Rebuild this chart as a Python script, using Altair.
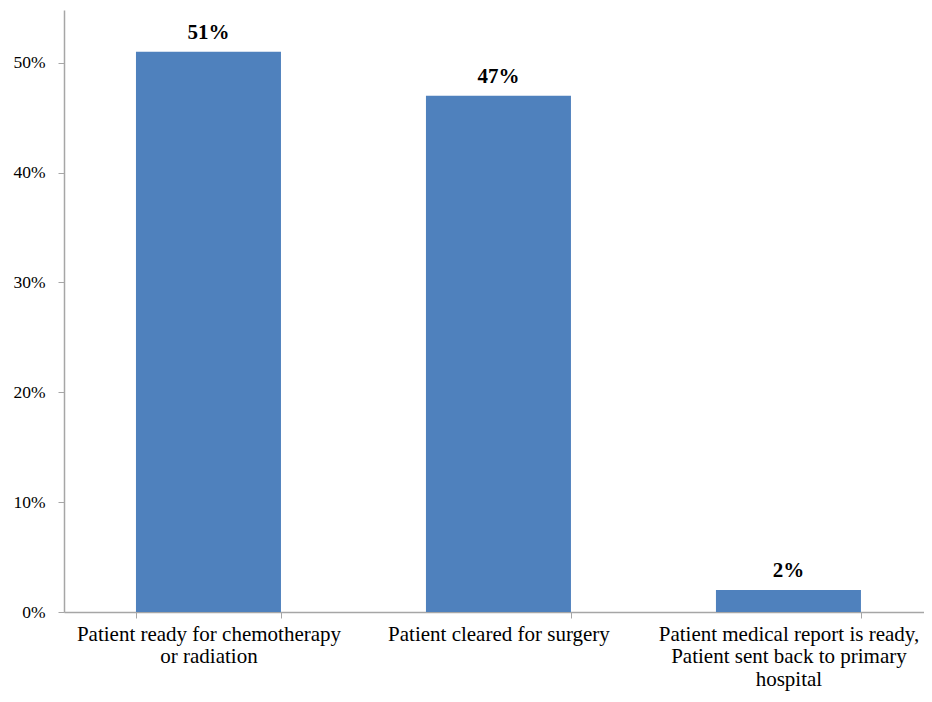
import altair as alt
import pandas as pd

keys = ["A", "B", "C"]
category_lines = [
    ["Patient ready for chemotherapy", "or radiation"],
    ["Patient cleared for surgery"],
    ["Patient medical report is ready,", "Patient sent back to primary", "hospital"],
]
values = [0.51, 0.47, 0.02]
labels = ["51%", "47%", "2%"]
y_ticks = [0, 0.1, 0.2, 0.3, 0.4, 0.5]

df = pd.DataFrame({"key": keys, "value": values, "label": labels})

def js_list(lines):
    return "[" + ", ".join("'" + s.replace("'", "\\'") + "'" for s in lines) + "]"

label_expr = (
    f"datum.value === '{keys[0]}' ? {js_list(category_lines[0])} : "
    f"datum.value === '{keys[1]}' ? {js_list(category_lines[1])} : "
    f"datum.value === '{keys[2]}' ? {js_list(category_lines[2])} : ''"
)

axis_color = "#A6A6A6"
font = "Liberation Serif"

x = alt.X(
    "key:N",
    sort=keys,
    title=None,
    scale=alt.Scale(paddingInner=0.5, paddingOuter=0.2328, align=0.533),
    axis=alt.Axis(
        labelExpr=label_expr,
        labelAngle=0,
        labelFont=font,
        labelFontSize=21,
        labelColor="#000000",
        labelLineHeight=22.5,
        labelPadding=5,
        labelBaseline="top",
        labelLimit=600,
        tickBand="extent",
        tickSize=6,
        tickColor=axis_color,
        domainColor=axis_color,
        domainWidth=1.5,
        grid=False,
    ),
)
y = alt.Y(
    "value:Q",
    title=None,
    scale=alt.Scale(domain=[0, 0.548], nice=False),
    axis=alt.Axis(
        values=y_ticks,
        format=".0%",
        labelFont=font,
        labelFontSize=17.5,
        labelColor="#000000",
        labelPadding=13,
        tickSize=6,
        tickColor=axis_color,
        domainColor=axis_color,
        domainWidth=1.5,
        grid=False,
    ),
)

bars = alt.Chart(df).mark_bar(color="#4F81BD").encode(x=x, y=y)
text = alt.Chart(df).mark_text(
    font=font, fontSize=21, fontWeight="bold", baseline="bottom", dy=-9, color="#000000"
).encode(x=alt.X("key:N", sort=keys), y="value:Q", text="label:N")

chart = (
    alt.layer(bars, text)
    .properties(
        width=860,
        height=602,
        autosize=alt.AutoSizeParams(type="none"),
        padding={"left": 56, "top": 2, "right": 0, "bottom": 82},
    )
    .configure_view(stroke=None)
)

chart.save("out.html", embed_options={"renderer": "svg", "actions": False})
